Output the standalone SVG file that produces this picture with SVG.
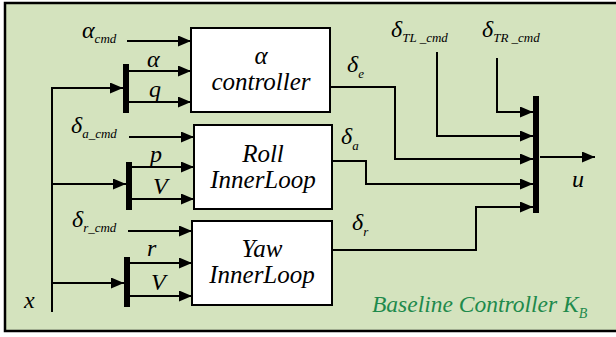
<svg xmlns="http://www.w3.org/2000/svg" width="616" height="337" viewBox="0 0 616 337">
<style>
.box{fill:#fff;stroke:#000;stroke-width:2}
.bar{fill:#000}
</style>
<defs>
<marker id="ah" markerUnits="userSpaceOnUse" markerWidth="13" markerHeight="11" refX="13" refY="5.5" orient="auto">
<path d="M0,0 L13,5.5 L0,11 z" fill="#000"/>
</marker>
</defs>
<rect x="5" y="3" width="616" height="328" fill="#d4e3be" stroke="#000" stroke-width="2.5"/>

<g id="alpha-controller">
<rect class="box" x="191" y="28" width="139" height="84"/>
<text x="261" y="64" style="font-family:'Liberation Serif';font-style:italic;font-size:25px" text-anchor="middle">α</text>
<text x="261" y="90" style="font-family:'Liberation Serif';font-style:italic;font-size:25px" text-anchor="middle">controller</text>
</g>
<g id="roll-innerloop">
<rect class="box" x="194" y="125" width="138" height="84"/>
<text x="263" y="162" style="font-family:'Liberation Serif';font-style:italic;font-size:25px" text-anchor="middle">Roll</text>
<text x="263" y="188" style="font-family:'Liberation Serif';font-style:italic;font-size:25px" text-anchor="middle">InnerLoop</text>
</g>
<g id="yaw-innerloop">
<rect class="box" x="192" y="221" width="140" height="84"/>
<text x="262" y="257" style="font-family:'Liberation Serif';font-style:italic;font-size:25px" text-anchor="middle">Yaw</text>
<text x="262" y="283" style="font-family:'Liberation Serif';font-style:italic;font-size:25px" text-anchor="middle">InnerLoop</text>
</g>

<g id="mux1"><rect class="bar" x="123" y="64" width="6" height="49"/></g>
<g id="mux2"><rect class="bar" x="126" y="162" width="6" height="48"/></g>
<g id="mux3"><rect class="bar" x="124" y="257" width="6" height="50"/></g>
<g id="mux-out"><rect class="bar" x="533" y="96" width="6" height="117"/></g>

<g id="connectors" fill="none" stroke="#000" stroke-width="2">
<path d="M127,41 H191" marker-end="url(#ah)"/>
<path d="M129,71 H191" marker-end="url(#ah)"/>
<path d="M129,102 H191" marker-end="url(#ah)"/>
<path d="M52,312 V88 H123" marker-end="url(#ah)"/>
<path d="M129,137 H194" marker-end="url(#ah)"/>
<path d="M132,167 H194" marker-end="url(#ah)"/>
<path d="M132,199 H194" marker-end="url(#ah)"/>
<path d="M52,184 H126" marker-end="url(#ah)"/>
<path d="M128,231 H192" marker-end="url(#ah)"/>
<path d="M130,263 H192" marker-end="url(#ah)"/>
<path d="M130,296 H192" marker-end="url(#ah)"/>
<path d="M52,283 H124" marker-end="url(#ah)"/>
<path d="M330,87 H395 V159 H533" marker-end="url(#ah)"/>
<path d="M332,161 H366 V184 H533" marker-end="url(#ah)"/>
<path d="M332,250 H476 V207 H533" marker-end="url(#ah)"/>
<path d="M437,52 V136 H533" marker-end="url(#ah)"/>
<path d="M497,58 V112 H533" marker-end="url(#ah)"/>
<path d="M540,157 H595" marker-end="url(#ah)"/>
</g>

<g id="labels">
<text x="82" y="38" style="font-family:'Liberation Serif';font-style:italic;font-size:24px">α<tspan style="font-size:13px" dy="5">cmd</tspan></text>
<text x="147" y="67" style="font-family:'Liberation Serif';font-style:italic;font-size:24px">α</text>
<text x="149" y="97" style="font-family:'Liberation Serif';font-style:italic;font-size:24px">q</text>
<text x="71" y="133" style="font-family:'Liberation Serif';font-style:italic;font-size:24px">δ<tspan style="font-size:13px" dy="5">a_cmd</tspan></text>
<text x="150" y="162" style="font-family:'Liberation Serif';font-style:italic;font-size:24px">p</text>
<text x="153" y="194" style="font-family:'Liberation Serif';font-style:italic;font-size:24px">V</text>
<text x="72" y="227" style="font-family:'Liberation Serif';font-style:italic;font-size:24px">δ<tspan style="font-size:13px" dy="5">r_cmd</tspan></text>
<text x="147" y="256" style="font-family:'Liberation Serif';font-style:italic;font-size:24px">r</text>
<text x="151" y="290" style="font-family:'Liberation Serif';font-style:italic;font-size:24px">V</text>
<text x="24" y="308" style="font-family:'Liberation Serif';font-style:italic;font-size:24px">x</text>
<text x="347" y="72" style="font-family:'Liberation Serif';font-style:italic;font-size:24px">δ<tspan style="font-size:13px" dy="6">e</tspan></text>
<text x="341" y="144" style="font-family:'Liberation Serif';font-style:italic;font-size:24px">δ<tspan style="font-size:13px" dy="6">a</tspan></text>
<text x="352" y="230" style="font-family:'Liberation Serif';font-style:italic;font-size:24px">δ<tspan style="font-size:13px" dy="6">r</tspan></text>
<text x="391" y="37" style="font-family:'Liberation Serif';font-style:italic;font-size:24px">δ<tspan style="font-size:13px" dy="5">TL _cmd</tspan></text>
<text x="482" y="37" style="font-family:'Liberation Serif';font-style:italic;font-size:24px">δ<tspan style="font-size:13px" dy="5">TR _cmd</tspan></text>
<text x="572" y="187" style="font-family:'Liberation Serif';font-style:italic;font-size:24px">u</text>
<text x="372" y="312" style="font-family:'Liberation Serif';font-style:italic;font-size:23.5px;fill:#1e8a4c">Baseline Controller K<tspan style="font-size:14px" dy="6">B</tspan></text>
</g>
</svg>
